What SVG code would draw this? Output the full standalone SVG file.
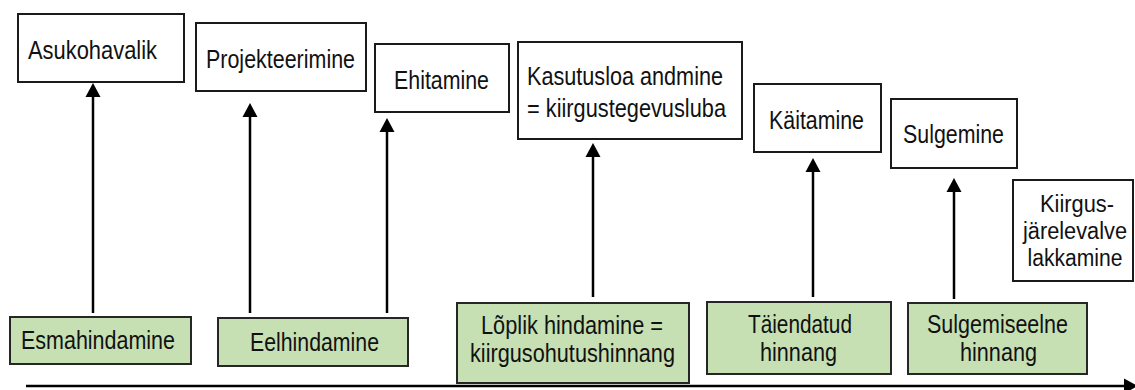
<svg xmlns="http://www.w3.org/2000/svg" width="1135" height="390" viewBox="0 0 1135 390">
<style>
.box{fill:#ffffff;stroke:#1a1a1a;stroke-width:2}
.gbox{fill:#c6e0b4;stroke:#262626;stroke-width:2}
text{font-family:"Liberation Sans",Arial,sans-serif;font-size:25px;fill:#111}
.sm{font-size:23.5px;text-anchor:middle}
.conn{stroke:#000;stroke-width:2.5;fill:none}
</style>
<defs>
<marker id="ah" viewBox="0 -8 14 16" markerWidth="14" markerHeight="16" refX="0" refY="0" markerUnits="userSpaceOnUse" orient="auto">
<path d="M0,-7.5 L14,0 L0,7.5 Z" fill="#000"/>
</marker>
</defs>
<rect width="1135" height="390" fill="#fff"/>
<g id="asukohavalik"><rect class="box" x="18" y="14" width="166" height="68"/><text x="28" y="59" textLength="129" lengthAdjust="spacingAndGlyphs">Asukohavalik</text></g>
<g id="projekteerimine"><rect class="box" x="196" y="23" width="170" height="68"/><text x="206" y="68" textLength="149" lengthAdjust="spacingAndGlyphs">Projekteerimine</text></g>
<g id="ehitamine"><rect class="box" x="375" y="44" width="134" height="68"/><text x="394" y="89" textLength="95" lengthAdjust="spacingAndGlyphs">Ehitamine</text></g>
<g id="kasutusloa"><rect class="box" x="518" y="42" width="224" height="97"/><text x="527" y="85" textLength="196" lengthAdjust="spacingAndGlyphs">Kasutusloa andmine</text><text x="527" y="117" textLength="199" lengthAdjust="spacingAndGlyphs">= kiirgustegevusluba</text></g>
<g id="kaitamine"><rect class="box" x="754" y="84" width="127" height="68"/><text x="769" y="129" textLength="95" lengthAdjust="spacingAndGlyphs">Käitamine</text></g>
<g id="sulgemine"><rect class="box" x="891" y="99" width="126" height="69"/><text x="903" y="143" textLength="101" lengthAdjust="spacingAndGlyphs">Sulgemine</text></g>
<g id="kiirgusjarelevalve"><rect class="box" x="1013" y="180" width="120" height="101"/><text class="sm" x="1077" y="212" textLength="74" lengthAdjust="spacingAndGlyphs">Kiirgus-</text><text class="sm" x="1075" y="239" textLength="104" lengthAdjust="spacingAndGlyphs">järelevalve</text><text class="sm" x="1075" y="266" textLength="95" lengthAdjust="spacingAndGlyphs">lakkamine</text></g>
<g id="esmahindamine"><rect class="gbox" x="10" y="317" width="181" height="47"/><text x="21" y="349" textLength="154" lengthAdjust="spacingAndGlyphs">Esmahindamine</text></g>
<g id="eelhindamine"><rect class="gbox" x="218" y="318" width="190" height="48"/><text x="250" y="351" textLength="129" lengthAdjust="spacingAndGlyphs">Eelhindamine</text></g>
<g id="loplik"><rect class="gbox" x="457" y="303" width="232" height="80"/><text x="481" y="334" textLength="182" lengthAdjust="spacingAndGlyphs">Lõplik hindamine =</text><text x="470" y="362" textLength="205" lengthAdjust="spacingAndGlyphs">kiirgusohutushinnang</text></g>
<g id="taiendatud"><rect class="gbox" x="707" y="302" width="184" height="72"/><text x="748" y="333" textLength="104" lengthAdjust="spacingAndGlyphs">Täiendatud</text><text x="760" y="361" textLength="77" lengthAdjust="spacingAndGlyphs">hinnang</text></g>
<g id="sulgemiseelne"><rect class="gbox" x="908" y="303" width="179" height="71"/><text x="927" y="333" textLength="141" lengthAdjust="spacingAndGlyphs">Sulgemiseelne</text><text x="960" y="361" textLength="77" lengthAdjust="spacingAndGlyphs">hinnang</text></g>
<g id="connectors">
<line class="conn" x1="93" y1="313" x2="93" y2="97" marker-end="url(#ah)"/>
<line class="conn" x1="250" y1="313" x2="250" y2="117" marker-end="url(#ah)"/>
<line class="conn" x1="387" y1="313" x2="387" y2="132" marker-end="url(#ah)"/>
<line class="conn" x1="593" y1="297" x2="593" y2="157" marker-end="url(#ah)"/>
<line class="conn" x1="813" y1="297" x2="813" y2="172" marker-end="url(#ah)"/>
<line class="conn" x1="954" y1="299" x2="954" y2="192" marker-end="url(#ah)"/>
<line class="conn" x1="26" y1="386" x2="1124" y2="386" marker-end="url(#ah)"/>
</g>
</svg>
